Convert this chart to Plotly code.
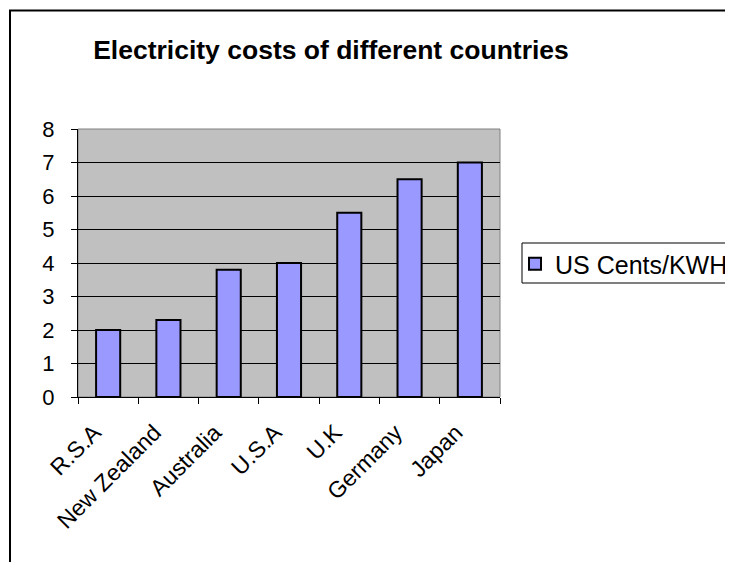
import plotly.graph_objects as go

countries = ["R.S.A", "New Zealand", "Australia", "U.S.A", "U.K", "Germany", "Japan"]
cents_per_kwh = [2.0, 2.3, 3.8, 4.0, 5.5, 6.5, 7.0]
series_name = "US Cents/KWH"
title_text = "Electricity costs of different countries"

OFF = 8  # page offset of the figure in the browser
W, H = 733, 562
# target plot area in screen pixels
PX0, PX1, PY0, PY1 = 78, 500, 129, 397
L, R = PX0 - OFF, W - (PX1 - OFF)
T, B = PY0 - OFF, H - (PY1 - OFF)
pw, ph = PX1 - PX0, PY1 - PY0

def px_x(x):
    return (x - PX0) / pw

def px_y(y):
    return (PY1 - y) / ph

fig = go.Figure()
fig.add_trace(go.Bar(
    x=countries, y=cents_per_kwh, name=series_name,
    marker=dict(color="#9999FF", line=dict(color="black", width=2)),
    width=0.4, showlegend=True,
))

font_family = "Liberation Sans, Arial, sans-serif"

fig.update_layout(
    width=W, height=H,
    margin=dict(l=L, r=R, t=T, b=B, autoexpand=False),
    paper_bgcolor="white", plot_bgcolor="#C0C0C0",
    font=dict(family=font_family, size=22, color="black"),
    title=dict(text="<b>" + title_text + "</b>", x=px_x(331), xref="paper", xanchor="center",
               y=1 - (50 - OFF) / H, yref="container", yanchor="middle",
               font=dict(size=26.5, family=font_family, color="black")),
    showlegend=True,
    legend=dict(x=px_x(515), y=px_y(241), xanchor="left", yanchor="top",
                bgcolor="rgba(0,0,0,0)", borderwidth=0,
                font=dict(size=25), itemwidth=30),
    bargap=0.6,
)
fig.update_xaxes(
    type="category", range=[-0.5, 6.5], tickangle=-45,
    showline=True, linecolor="black", linewidth=1,
    ticks="outside", tickson="boundaries", ticklen=6, tickcolor="black",
    showgrid=False, tickfont=dict(size=23),
    ticklabelstandoff=12, ticklabelshift=-14,
)
fig.update_yaxes(
    range=[0, 8], dtick=1, showline=True, linecolor="black", linewidth=1,
    ticks="outside", ticklen=6, tickcolor="black",
    showgrid=True, gridcolor="black", gridwidth=1, zeroline=False,
    tickfont=dict(size=22), ticklabelstandoff=12,
)
# plot area border (gray)
fig.add_shape(type="rect", xref="paper", yref="paper", x0=0, y0=0, x1=1, y1=1,
              line=dict(color="#808080", width=1), layer="below")
# legend box
fig.add_shape(type="rect", xref="paper", yref="paper",
              x0=px_x(522), y0=px_y(283), x1=px_x(820), y1=px_y(243),
              line=dict(color="black", width=1), fillcolor="white", layer="below")
# chart outer border
fig.add_shape(type="rect", xref="paper", yref="paper",
              x0=px_x(10), y0=px_y(600), x1=px_x(780), y1=px_y(10.5),
              line=dict(color="black", width=2))

fig.write_html("out.html")
